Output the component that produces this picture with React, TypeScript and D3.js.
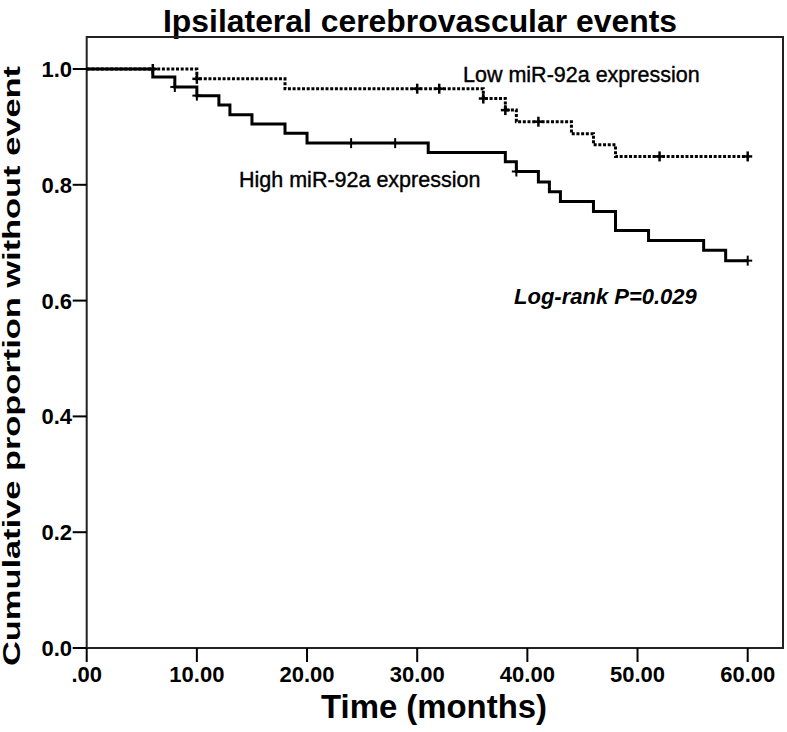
import React from "react";
import * as d3 from "d3";

const W = 787;
const H = 732;

// Kaplan-Meier steps: [time, survival after event]
const highTimes = [0, 6, 8, 10, 12, 13, 15, 18, 20, 31, 38, 39, 41, 42, 43, 46, 48, 51, 56, 58];
const highSurv = [1.0, 0.986, 0.969, 0.954, 0.938, 0.921, 0.905, 0.889, 0.872, 0.856, 0.84, 0.823, 0.805, 0.788, 0.771, 0.754, 0.721, 0.704, 0.687, 0.669];
const highCensor = [8, 10, 24, 28, 39, 60];

const lowTimes = [0, 10, 18, 36, 38, 39, 44, 46, 48];
const lowSurv = [1.0, 0.983, 0.966, 0.949, 0.929, 0.909, 0.888, 0.869, 0.849];
const lowCensor = [6, 10, 30, 32, 36, 38, 41, 52, 60];

const xTicks = [0, 10, 20, 30, 40, 50, 60];
const xTickLabels = [".00", "10.00", "20.00", "30.00", "40.00", "50.00", "60.00"];
const yTicks = [0, 0.2, 0.4, 0.6, 0.8, 1.0];
const yTickLabels = ["0.0", "0.2", "0.4", "0.6", "0.8", "1.0"];

const titleText = "Ipsilateral cerebrovascular events";
const xTitle = "Time (months)";
const yTitle = "Cumulative proportion without event";
const lowLabel = "Low miR-92a expression";
const highLabel = "High miR-92a expression";
const pLabel = "Log-rank P=0.029";

const FONT = "'Liberation Sans', Arial, Helvetica, sans-serif";

function stepPath(times: number[], surv: number[], endT: number, x: any, y: any) {
  const pts: [number, number][] = [];
  for (let i = 0; i < times.length; i++) {
    if (i > 0) pts.push([x(times[i]), y(surv[i - 1])]);
    pts.push([x(times[i]), y(surv[i])]);
  }
  pts.push([x(endT), y(surv[surv.length - 1])]);
  return d3.line()(pts) as string;
}

function survAt(times: number[], surv: number[], t: number) {
  let v = surv[0];
  for (let i = 0; i < times.length; i++) if (times[i] <= t) v = surv[i];
  return v;
}

export default function App() {
  const left = 86.7, right = 747.7, frameRight = 783, top = 37, bottom = 648;
  const x = d3.scaleLinear().domain([0, 60]).range([left, right]);
  const y = d3.scaleLinear().domain([0, 1]).range([bottom, 69]);

  const highD = stepPath(highTimes, highSurv, 60, x, y);
  const lowD = stepPath(lowTimes, lowSurv, 60, x, y);

  const plus = (t: number, v: number, key: string, sw: number) => {
    const cx = x(t), cy = y(v);
    return (
      <g key={key} stroke="#000" strokeWidth={sw}>
        <line x1={cx - 4.5} x2={cx + 4.5} y1={cy} y2={cy} />
        <line x1={cx} x2={cx} y1={cy - 5} y2={cy + 5} />
      </g>
    );
  };

  return (
    <svg width={W} height={H} style={{ position: "absolute", left: 0, top: 0, background: "#fff" }} fontFamily={FONT}>
      <rect x={0} y={0} width={W} height={H} fill="#fff" />
      <text x={420} y={32} textAnchor="middle" fontSize={31} fontWeight="bold" textLength={514} lengthAdjust="spacingAndGlyphs">{titleText}</text>
      <rect x={left} y={top} width={frameRight - left} height={bottom - top} fill="none" stroke="#222" strokeWidth={2} />
      {yTicks.map((t, i) => (
        <g key={"y" + i}>
          <line x1={left - 14} x2={left} y1={y(t)} y2={y(t)} stroke="#000" strokeWidth={2} />
          <text x={72} y={y(t)} dy="0.36em" textAnchor="end" fontSize={22} fontWeight="bold">{yTickLabels[i]}</text>
        </g>
      ))}
      {xTicks.map((t, i) => (
        <g key={"x" + i}>
          <line x1={x(t)} x2={x(t)} y1={bottom} y2={bottom + 14} stroke="#000" strokeWidth={2} />
          <text x={x(t)} y={682} textAnchor="middle" fontSize={22} fontWeight="bold">{xTickLabels[i]}</text>
        </g>
      ))}
      <text x={434} y={718} textAnchor="middle" fontSize={33} fontWeight="bold" textLength={226} lengthAdjust="spacingAndGlyphs">{xTitle}</text>
      <text transform={`translate(20, 366) rotate(-90)`} textAnchor="middle" fontSize={23} fontWeight="bold" textLength={600} lengthAdjust="spacingAndGlyphs">{yTitle}</text>

      <path d={lowD} fill="none" stroke="#000" strokeWidth={3} strokeDasharray="3 1.7" />
      <path d={highD} fill="none" stroke="#000" strokeWidth={3} />
      {lowCensor.map((t, i) => plus(t, survAt(lowTimes, lowSurv, t), "lc" + i, 2.5))}
      {highCensor.map((t, i) => plus(t, survAt(highTimes, highSurv, t), "hc" + i, 2))}

      <text x={463} y={82} fontSize={21.5} stroke="#000" strokeWidth={0.4}>{lowLabel}</text>
      <text x={239} y={187} fontSize={21.5} stroke="#000" strokeWidth={0.4}>{highLabel}</text>
      <text x={514} y={304} fontSize={22} fontStyle="italic" fontWeight="bold">{pLabel}</text>
    </svg>
  );
}
